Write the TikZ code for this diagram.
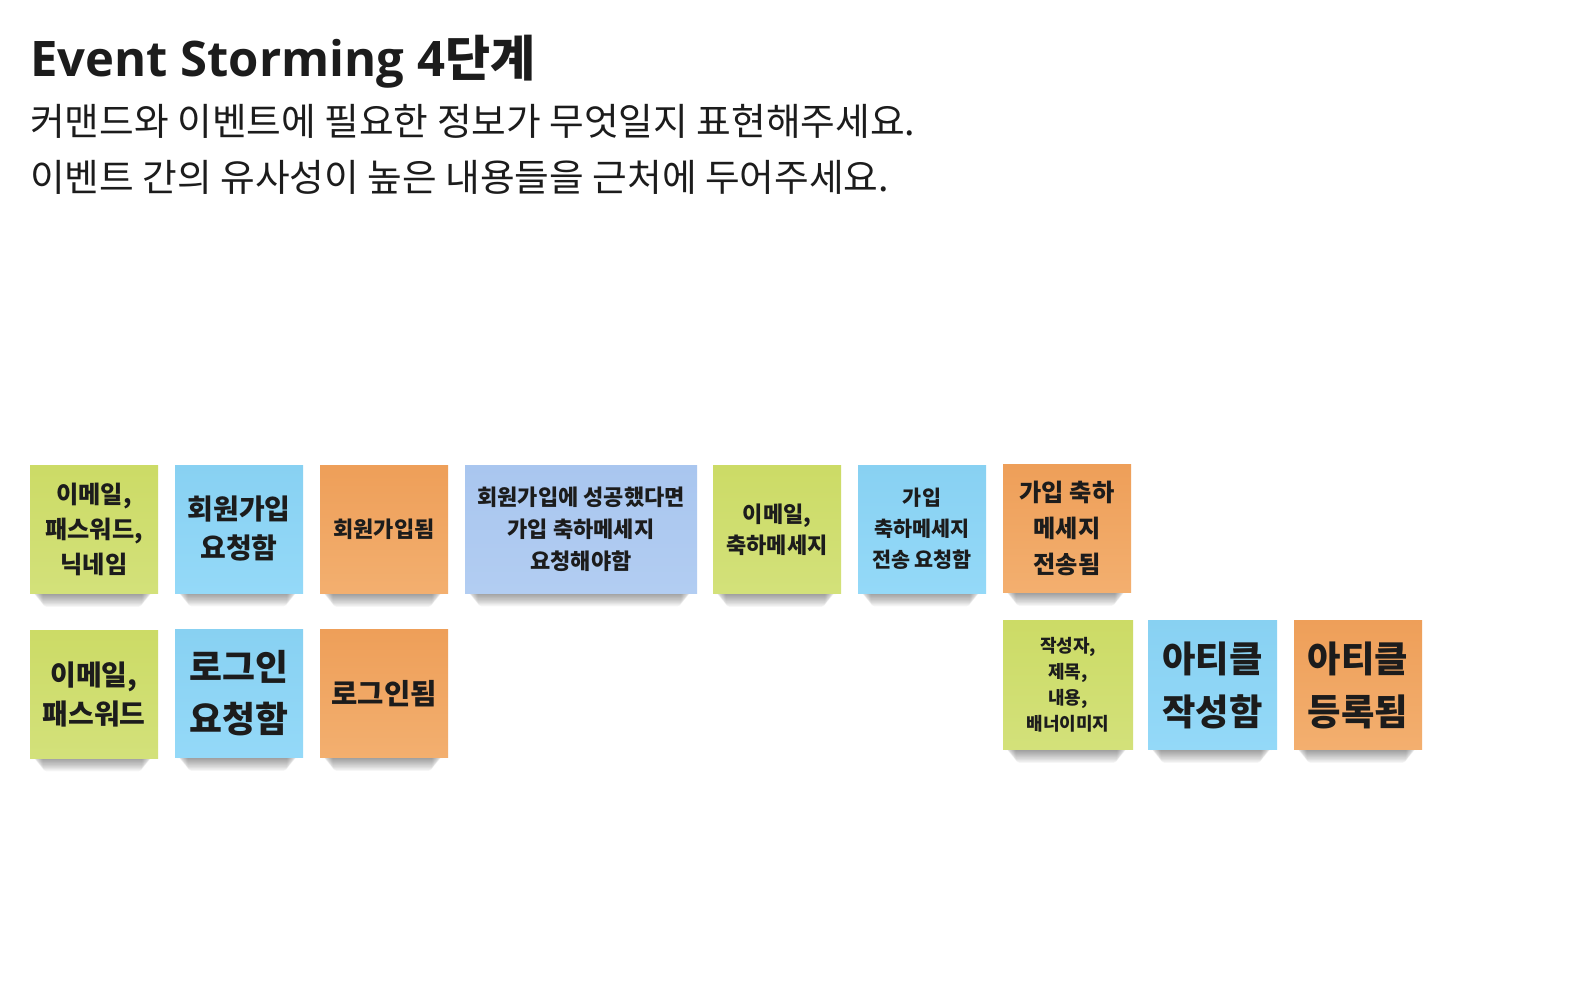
\documentclass[tikz,border=0pt]{standalone}
\usepackage{fontspec}
\usetikzlibrary{calc}
\newfontfamily\krfont{Noto Sans CJK KR}
\newfontfamily\osfont{Open Sans}
\pgfdeclarelayer{background}
\pgfdeclarelayer{paper}
\pgfsetlayers{paper,background,main}
\definecolor{ink}{HTML}{1C1C1C}
\definecolor{gtop}{HTML}{CCDB66}
\definecolor{gbot}{HTML}{D3E17A}
\definecolor{btop}{HTML}{88D1F2}
\definecolor{bbot}{HTML}{94D9F8}
\definecolor{otop}{HTML}{EE9F59}
\definecolor{obot}{HTML}{F3AF6F}
\definecolor{ptop}{HTML}{A9C6EF}
\definecolor{pbot}{HTML}{B2CDF2}
\newcommand\notefs[2]{\fontsize{#1}{#2}\selectfont}
\tikzset{
  note/.style={minimum width=128pt, minimum height=128pt, inner sep=0pt,
    align=center, text=ink},
  gnote/.style={note, top color=gtop, bottom color=gbot},
  bnote/.style={note, top color=btop, bottom color=bbot},
  onote/.style={note, top color=otop, bottom color=obot},
  pnote/.style={note, top color=ptop, bottom color=pbot},
  subline/.style={anchor=base west, inner sep=0pt, text=ink,
    font={\krfont\notefs{37.7}{44}}},
}
\begin{document}
\begin{tikzpicture}[x=1pt,y=-1pt]
\begin{pgfonlayer}{paper}
\fill[white] (0,0) rectangle (1572,1002);
\end{pgfonlayer}
\useasboundingbox (0,0) rectangle (1572,1002);

\node[anchor=base west, inner sep=0pt, text=ink] (title) at (30,76)
  {\osfont\bfseries\notefs{49}{54}Event Storming 4\krfont\bfseries 단계};
\node[subline] (sub1) at (30,135) {커맨드와 이벤트에 필요한 정보가 무엇일지 표현해주세요.};
\node[subline] (sub2) at (30,191) {이벤트 간의 유사성이 높은 내용들을 근처에 두어주세요.};

% row 1
\node[gnote, font={\krfont\bfseries\notefs{24.2}{35}}] (n1) at (94,529.5)
  {이메일,\\패스워드,\\닉네임};
\node[bnote, font={\krfont\bfseries\notefs{28}{39}}] (n2) at (239,529)
  {회원가입\\요청함};
\node[onote, font={\krfont\bfseries\notefs{22}{30}}] (n3) at (384,529.5)
  {회원가입됨};
\node[pnote, minimum width=232pt, font={\krfont\bfseries\notefs{22}{32}}] (n4) at (581,529)
  {회원가입에 성공했다면\\가입 축하메세지\\요청해야함};
\node[gnote, font={\krfont\bfseries\notefs{22}{31}}] (n5) at (777,529.5)
  {이메일,\\축하메세지};
\node[bnote, font={\krfont\bfseries\notefs{20.7}{31}}] (n6) at (922,529)
  {가입\\축하메세지\\전송 요청함};
\node[onote, font={\krfont\bfseries\notefs{24.2}{36}}] (n7) at (1067,528.5)
  {가입 축하\\메세지\\전송됨};

% row 2 left
\node[gnote, font={\krfont\bfseries\notefs{28}{39}}] (m1) at (94,694)
  {이메일,\\패스워드};
\node[bnote, font={\krfont\bfseries\notefs{35.8}{52}}] (m2) at (239,693.5)
  {로그인\\요청함};
\node[onote, font={\krfont\bfseries\notefs{28.6}{36}}] (m3) at (384,693.5)
  {로그인됨};

% row 2 right
\node[gnote, minimum width=130pt, minimum height=129pt, font={\krfont\bfseries\notefs{18}{26}}] (a1) at (1068,685)
  {작성자,\\제목,\\내용,\\배너이미지};
\node[bnote, minimum width=129pt, minimum height=129pt, font={\krfont\bfseries\notefs{36.3}{53}}] (a2) at (1212.5,685)
  {아티클\\작성함};
\node[onote, minimum height=129pt, font={\krfont\bfseries\notefs{36.3}{53}}] (a3) at (1358,685)
  {아티클\\등록됨};

\begin{pgfonlayer}{background}
\foreach \n in {n1,n2,n3,n4,n5,n6,n7,m1,m2,m3,a1,a2,a3}{
  \foreach \i in {1,...,12}{
    \fill[black, opacity=0.035, rounded corners=4pt]
      ($(\n.south west)+(2+\i*0.9,-3)$) rectangle ($(\n.south east)+(-5-\i*0.9,\i*1.1)$);
  }
}
\end{pgfonlayer}
\end{tikzpicture}
\end{document}
